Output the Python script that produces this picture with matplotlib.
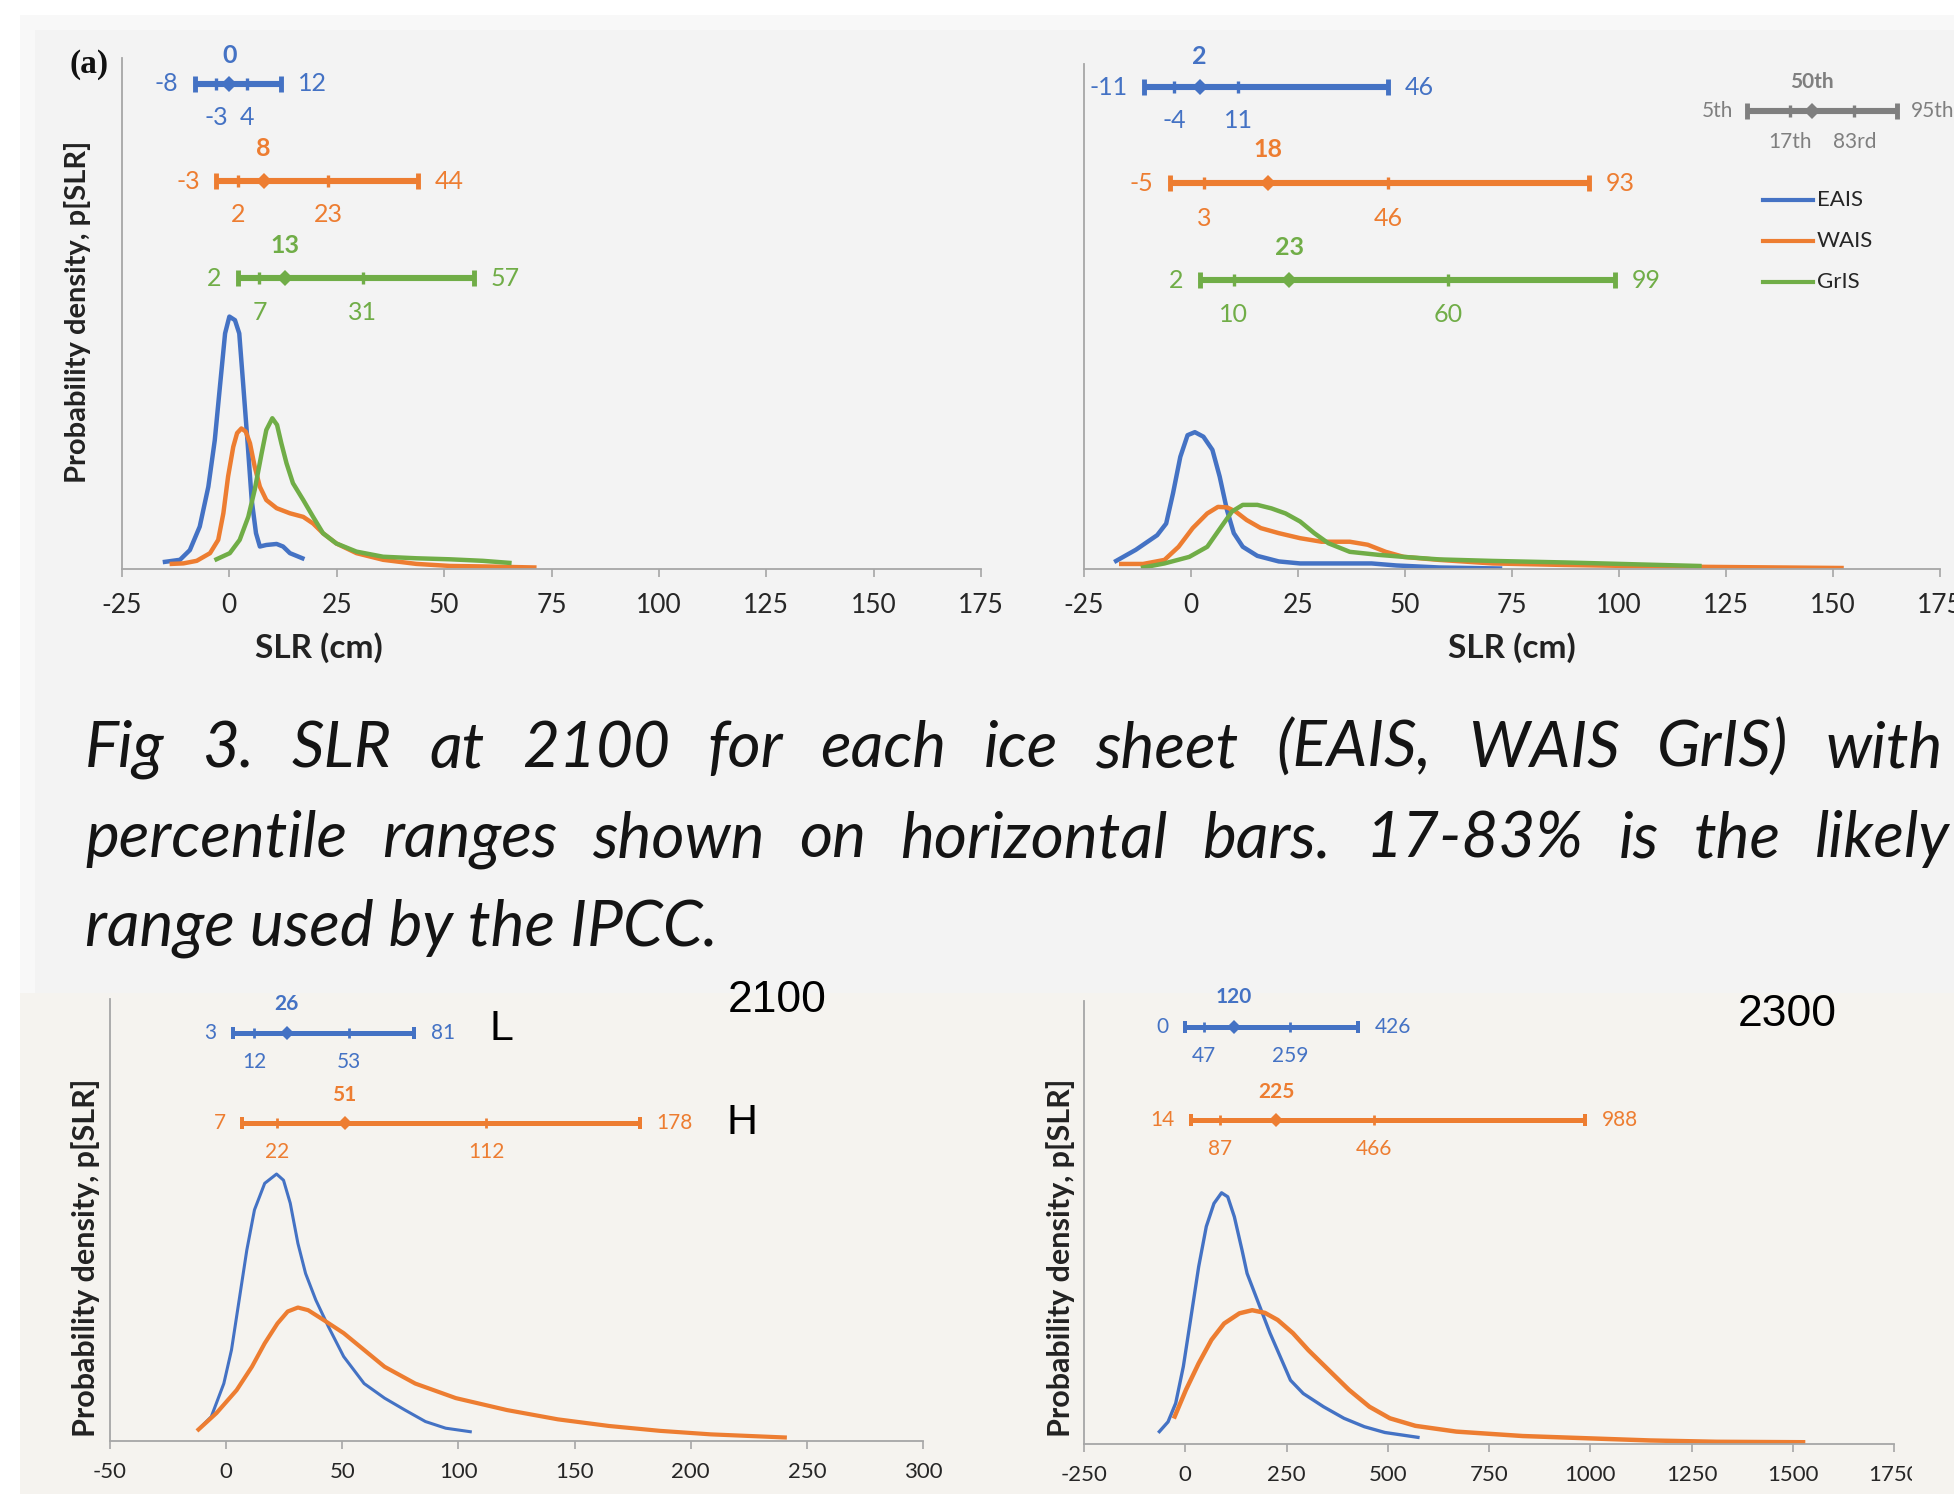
import matplotlib
matplotlib.use('Agg')
import matplotlib.pyplot as plt
from matplotlib.patches import Rectangle

W, H = 1954, 1494

# ---- colours ----
BLUE, ORANGE, GREEN, GREY = '#4472C4', '#ED7D31', '#70AD47', '#7F7F7F'

# ---- percentile bars (5th, 17th, 50th, 83rd, 95th), SLR in cm ----
eais_a = [-8, -3, 0, 4, 12]
wais_a = [-3, 2, 8, 23, 44]
gris_a = [2, 7, 13, 31, 57]
eais_b = [-11, -4, 2, 11, 46]
wais_b = [-5, 3, 18, 46, 93]
gris_b = [2, 10, 23, 60, 99]
low_2100 = [3, 12, 26, 53, 81]
high_2100 = [7, 22, 51, 112, 178]
low_2300 = [0, 47, 120, 259, 426]
high_2300 = [14, 87, 225, 466, 988]

# ---- density curves (arbitrary density units) ----
eais_a_x = [-15.0, -11.5, -9.2, -6.9, -4.9, -3.4, -2.2, -1.0, 0.0, 1.3, 2.3, 3.2, 4.2, 5.2,
            6.2, 7.1, 8.6, 11.0, 12.5, 14.1, 17.0]
eais_a_y = [0.014, 0.018, 0.037, 0.083, 0.161, 0.252, 0.357, 0.461, 0.494, 0.487, 0.461, 0.363,
            0.252, 0.135, 0.070, 0.044, 0.047, 0.049, 0.044, 0.031, 0.021]
wais_a_x = [-13.4, -10.7, -7.6, -4.5, -2.6, -1.4, -0.3, 0.9, 1.8, 2.8, 3.8, 4.8, 5.9, 7.1, 8.6,
            11.0, 14.1, 17.2, 19.5, 21.8, 24.9, 29.6, 35.8, 43.5, 51.3, 59.0, 71.0]
wais_a_y = [0.010, 0.011, 0.016, 0.031, 0.057, 0.109, 0.181, 0.239, 0.266, 0.275, 0.269, 0.246,
            0.200, 0.161, 0.135, 0.119, 0.109, 0.102, 0.089, 0.070, 0.050, 0.031, 0.018, 0.010,
            0.006, 0.005, 0.003]
gris_a_x = [-3.0, 0.1, 2.4, 4.4, 5.9, 7.5, 8.6, 10.0, 11.1, 12.1, 13.3, 14.8, 17.2, 19.5, 21.8,
            24.9, 29.6, 35.8, 43.5, 51.3, 59.0, 65.2]
gris_a_y = [0.019, 0.031, 0.057, 0.102, 0.155, 0.226, 0.272, 0.295, 0.282, 0.246, 0.207, 0.168,
            0.135, 0.102, 0.070, 0.050, 0.034, 0.024, 0.021, 0.019, 0.016, 0.012]

eais_b_x = [-17.5, -12.9, -7.9, -5.8, -4.2, -2.5, -0.8, 0.9, 2.9, 5.0, 6.7, 8.4, 10.0, 12.1,
            15.5, 20.5, 25.5, 33.0, 42.2, 48.0, 58.0, 72.2]
eais_b_y = [0.016, 0.038, 0.067, 0.090, 0.150, 0.222, 0.265, 0.271, 0.262, 0.236, 0.183, 0.117,
            0.071, 0.044, 0.026, 0.015, 0.011, 0.011, 0.011, 0.007, 0.003, 0.001]
wais_b_x = [-16.3, -11.2, -6.2, -2.9, 0.4, 3.8, 6.3, 8.4, 10.4, 13.0, 16.3, 20.5, 25.5, 30.5,
            37.1, 41.3, 45.5, 49.7, 58.0, 70.5, 87.2, 109.6, 152.0]
wais_b_y = [0.010, 0.010, 0.018, 0.044, 0.081, 0.110, 0.123, 0.122, 0.114, 0.097, 0.081, 0.071,
            0.061, 0.054, 0.054, 0.048, 0.034, 0.024, 0.018, 0.011, 0.008, 0.005, 0.002]
gris_b_x = [-11.2, -6.2, -0.4, 3.8, 7.1, 9.6, 12.1, 15.5, 18.8, 22.1, 25.5, 28.8, 32.1, 37.1,
            43.8, 49.7, 58.0, 70.5, 87.2, 109.6, 118.8]
gris_b_y = [0.003, 0.011, 0.024, 0.044, 0.084, 0.114, 0.127, 0.127, 0.120, 0.110, 0.094, 0.071,
            0.051, 0.034, 0.028, 0.024, 0.019, 0.016, 0.013, 0.008, 0.006]

low_2100_x = [-11.9, -6.4, -1.0, 2.3, 5.6, 8.9, 12.2, 16.6, 21.7, 24.7, 27.6, 30.9, 34.2, 38.6,
              44.0, 50.6, 59.4, 68.2, 77.0, 85.8, 94.5, 105.1]
low_2100_y = [0.026, 0.055, 0.130, 0.206, 0.319, 0.432, 0.523, 0.583, 0.604, 0.590, 0.538, 0.447,
              0.379, 0.319, 0.259, 0.191, 0.130, 0.097, 0.070, 0.044, 0.029, 0.021]
high_2100_x = [-11.9, -4.2, 4.5, 11.1, 16.6, 22.1, 26.5, 30.9, 35.3, 41.9, 50.6, 59.4, 68.2, 81.4,
               98.9, 120.9, 142.8, 164.8, 186.7, 208.7, 240.5]
high_2100_y = [0.026, 0.063, 0.115, 0.168, 0.221, 0.266, 0.293, 0.302, 0.296, 0.274, 0.244, 0.206,
               0.168, 0.130, 0.097, 0.070, 0.049, 0.034, 0.023, 0.015, 0.008]

low_2300_x = [-63.9, -42.5, -23.6, -4.7, 14.2, 33.1, 52.0, 70.9, 89.7, 104.9, 121.2, 140.1, 152.7,
              177.9, 209.4, 234.6, 259.8, 291.3, 341.6, 392.0, 442.4, 492.8, 574.6]
low_2300_y = [0.028, 0.050, 0.092, 0.175, 0.287, 0.400, 0.491, 0.543, 0.567, 0.558, 0.513, 0.438,
              0.385, 0.325, 0.250, 0.197, 0.144, 0.114, 0.084, 0.058, 0.039, 0.026, 0.015]
high_2300_x = [-26.1, 1.6, 33.1, 64.6, 96.0, 133.8, 165.3, 196.8, 228.3, 266.1, 303.9, 354.2, 404.6,
               455.0, 505.4, 568.3, 669.1, 832.8, 1021.7, 1147.7, 1311.4, 1525.5]
high_2300_y = [0.062, 0.122, 0.182, 0.235, 0.272, 0.295, 0.302, 0.296, 0.280, 0.250, 0.212, 0.167,
               0.122, 0.084, 0.058, 0.041, 0.028, 0.018, 0.012, 0.008, 0.005, 0.004]

ticks_top = [-25, 0, 25, 50, 75, 100, 125, 150, 175]
ticks_2100 = [-50, 0, 50, 100, 150, 200, 250, 300]
ticks_2300 = [-250, 0, 250, 500, 750, 1000, 1250, 1500, 1750]
ice_sheets = ['EAIS', 'WAIS', 'GrIS']
key_labels = ['5th', '17th', '50th', '83rd', '95th']
key_pos = [130, 140, 145, 155, 165]   # legend glyph position on the right panel

caption = ["Fig 3. SLR at 2100 for each ice sheet (EAIS, WAIS GrIS) with",
           "percentile ranges shown on horizontal bars. 17-83% is the likely",
           "range used by the IPCC."]

GILL = 'Lato'


def fx(px):
    return px / W


def fy(py):
    return 1 - py / H


def rect(x0, y0, x1, y1, color, z=-10):
    fig.add_artist(Rectangle((fx(x0), fy(y1)), fx(x1 - x0), (y1 - y0) / H,
                             transform=fig.transFigure, color=color, lw=0, zorder=z))


def make_axes(l, t, r, b, xlim, ticks, fs, pad):
    ax = fig.add_axes([fx(l), fy(b), fx(r - l), (b - t) / H])
    ax.set_facecolor('none')
    ax.set_xlim(*xlim)
    ax.set_ylim(0, 1)
    ax.set_yticks([])
    for s in ['top', 'right']:
        ax.spines[s].set_visible(False)
    for s in ['left', 'bottom']:
        ax.spines[s].set_color('#a6a6a6')
        ax.spines[s].set_linewidth(1.3)
    ax.set_xticks(ticks)
    ax.set_xticklabels([str(t) for t in ticks], fontfamily=GILL, fontsize=fs, color='#262626')
    ax.tick_params(axis='x', direction='out', length=6, width=1.2, color='#a6a6a6', pad=pad)
    return ax


def density_label(ax, x, y, fs):
    ax.set_ylabel('Probability density, p[SLR]', fontfamily=GILL, fontweight='bold',
                  fontsize=fs, color='#222222', va='center')
    ax.yaxis.set_label_coords(x, y)


def pct_bar(ax, vals, y, color, dy_up, dy_dn, fs, lw=4.4, cap=11, labels=None, gap=12):
    p5, p17, p50, p83, p95 = vals
    if labels is None:
        labels = [str(v) for v in vals]
    kw = dict(color=color, clip_on=False, zorder=5)
    ax.plot([p5, p95], [y, y], lw=lw, solid_capstyle='butt', **kw)
    ax.plot([p5, p95], [y, y], ls='none', marker='|', ms=cap, mew=lw * 0.8, **kw)
    ax.plot([p17, p83], [y, y], ls='none', marker='|', ms=cap * 0.8, mew=lw * 0.55, **kw)
    ax.plot([p50], [y], ls='none', marker='D', ms=lw * 1.9, mew=0, **kw)
    tk = dict(color=color, fontfamily=GILL, fontsize=fs, annotation_clip=False)
    ax.annotate(labels[0], (p5, y), xytext=(-gap, 0), textcoords='offset points',
                ha='right', va='center', **tk)
    ax.annotate(labels[4], (p95, y), xytext=(gap, 0), textcoords='offset points',
                ha='left', va='center', **tk)
    ax.annotate(labels[1], (p17, y - dy_dn), ha='center', va='center', **tk)
    ax.annotate(labels[3], (p83, y - dy_dn), ha='center', va='center', **tk)
    ax.annotate(labels[2], (p50, y + dy_up), ha='center', va='center', fontweight='bold', **tk)


fig = plt.figure(figsize=(W / 100, H / 100), dpi=100)
fig.patch.set_facecolor('white')

# slide backgrounds
rect(20, 15, W, 995, '#f8f8f8')
rect(35, 30, W, 995, '#f3f3f3')
rect(20, 993, W, H, '#f5f3ef')

# ---------------- top left ----------------
axa = make_axes(122, 58, 981, 569, (-25, 175), ticks_top, 19, 11)
axa.plot(eais_a_x, eais_a_y, color=BLUE, lw=3.2)
axa.plot(wais_a_x, wais_a_y, color=ORANGE, lw=3.2)
axa.plot(gris_a_x, gris_a_y, color=GREEN, lw=3.2)
pct_bar(axa, eais_a, 0.950, BLUE, 0.054, 0.067, 18)
pct_bar(axa, wais_a, 0.759, ORANGE, 0.063, 0.066, 18)
pct_bar(axa, gris_a, 0.569, GREEN, 0.064, 0.067, 18)
density_label(axa, -0.052, 0.503, 21)
axa.set_xlabel('SLR (cm)', fontfamily=GILL, fontweight='bold', fontsize=24, color='#222222')
axa.xaxis.set_label_coords(0.229, -0.153)
axa.xaxis.label.set_va('center')
fig.text(fx(89), fy(65), '(a)', fontfamily='Liberation Serif', fontweight='bold', fontsize=24,
         ha='center', va='center', color='#111111')

# ---------------- top right ----------------
axb = make_axes(1084, 64, 1940, 569, (-25, 175), ticks_top, 19, 11)
axb.plot(eais_b_x, eais_b_y, color=BLUE, lw=3.2)
axb.plot(wais_b_x, wais_b_y, color=ORANGE, lw=3.2)
axb.plot(gris_b_x, gris_b_y, color=GREEN, lw=3.2)
pct_bar(axb, eais_b, 0.954, BLUE, 0.060, 0.066, 18)
pct_bar(axb, wais_b, 0.764, ORANGE, 0.067, 0.069, 18)
pct_bar(axb, gris_b, 0.572, GREEN, 0.064, 0.069, 18)
axb.set_xlabel('SLR (cm)', fontfamily=GILL, fontweight='bold', fontsize=24, color='#222222')
axb.xaxis.set_label_coords(0.5, -0.155)
axb.xaxis.label.set_va('center')
# percentile key
pct_bar(axb, key_pos, 0.9075, GREY, 0.056, 0.062, 15, lw=4.4, cap=11, labels=key_labels, gap=10)
# ice-sheet legend
for name, col, yy in zip(ice_sheets, [BLUE, ORANGE, GREEN], [0.731, 0.650, 0.568]):
    axb.plot([0.793, 0.852], [yy, yy], color=col, lw=3, transform=axb.transAxes, clip_on=False)
    axb.text(0.856, yy, name, transform=axb.transAxes, fontfamily=GILL, fontsize=16,
             color='#262626', va='center', ha='left')

# ---------------- caption ----------------
cap_kw = dict(fontfamily=GILL, fontstyle='italic', fontsize=46, color='#141414', va='baseline')
renderer = fig.canvas.get_renderer()
for line, base, x1, just in zip(caption, [767, 857, 946], [1943, 1950, None], [True, True, False]):
    if not just:
        fig.text(fx(85), fy(base), line, **cap_kw)
        continue
    words = line.split()
    objs = [fig.text(0, fy(base), w, **cap_kw) for w in words]
    widths = [o.get_window_extent(renderer).width for o in objs]
    gap = (x1 - 85 - sum(widths)) / (len(words) - 1)
    x = 85
    for o, wd in zip(objs, widths):
        o.set_x(fx(x))
        x += wd + gap

# ---------------- bottom left (2100) ----------------
axc = make_axes(110, 999, 923, 1441, (-50, 300), ticks_2100, 16, 9)
axc.plot(low_2100_x, low_2100_y, color=BLUE, lw=2.2)
axc.plot(high_2100_x, high_2100_y, color=ORANGE, lw=3)
pct_bar(axc, low_2100, 0.924, BLUE, 0.065, 0.067, 15, lw=3.6, cap=9)
pct_bar(axc, high_2100, 0.720, ORANGE, 0.063, 0.066, 15, lw=3.6, cap=9)
density_label(axc, -0.0295, 0.414, 22)
axc.text(0.482, 0.931, 'L', transform=axc.transAxes, fontfamily='Liberation Sans',
         fontsize=31, ha='center', va='center', clip_on=False)
axc.text(0.777, 0.720, 'H', transform=axc.transAxes, fontfamily='Liberation Sans',
         fontsize=31, ha='center', va='center', clip_on=False)
axc.text(0.821, 0.997, '2100', transform=axc.transAxes, fontfamily='Liberation Sans',
         fontsize=32, ha='center', va='center', clip_on=False)

# ---------------- bottom right (2300) ----------------
axd = make_axes(1084, 1001, 1894, 1444, (-250, 1750), ticks_2300, 16, 9)
axd.plot(low_2300_x, low_2300_y, color=BLUE, lw=2.4)
axd.plot(high_2300_x, high_2300_y, color=ORANGE, lw=3.2)
pct_bar(axd, low_2300, 0.942, BLUE, 0.068, 0.066, 15, lw=3.6, cap=9)
pct_bar(axd, high_2300, 0.731, ORANGE, 0.064, 0.066, 15, lw=3.6, cap=9)
density_label(axd, -0.0284, 0.42, 22)
axd.text(0.868, 0.97, '2300', transform=axd.transAxes, fontfamily='Liberation Sans',
         fontsize=32, ha='center', va='center', clip_on=False)

# the source picture is cropped through the last tick label
rect(1912, 1452, W, H, '#f5f3ef', z=20)

fig.savefig('out.png', dpi=100, facecolor=fig.get_facecolor())
